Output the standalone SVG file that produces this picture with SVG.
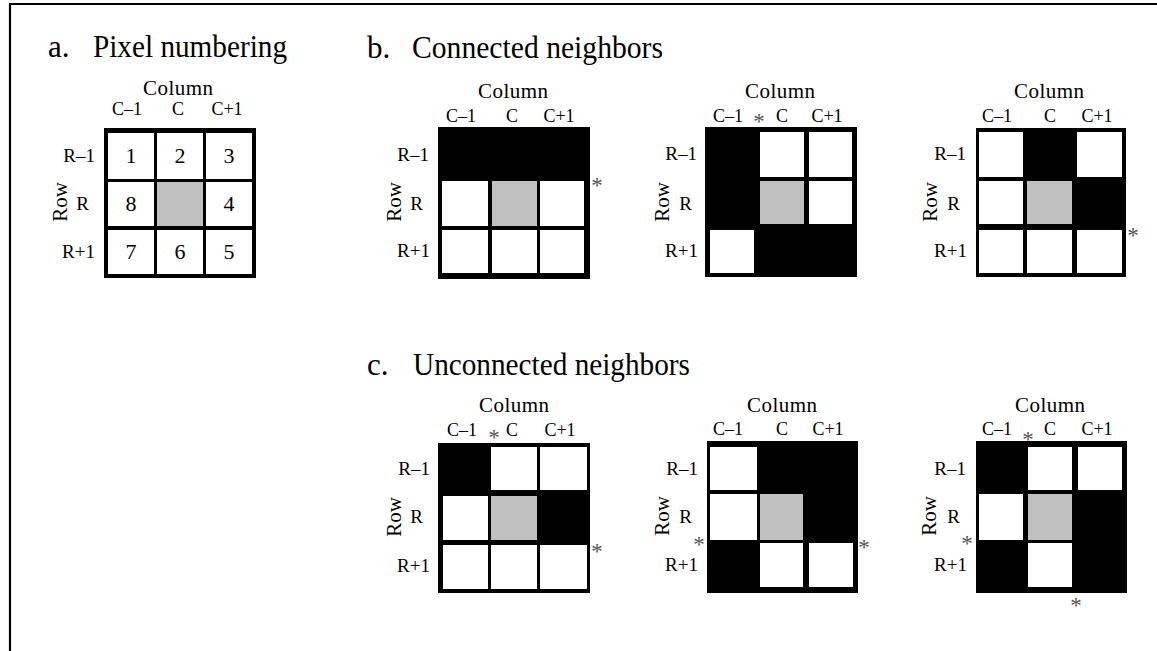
<svg xmlns="http://www.w3.org/2000/svg" width="1157" height="651" viewBox="0 0 1157 651">
<style>
text{font-family:"Liberation Serif","Times New Roman",serif;fill:#000}
.title{font-size:31px}
.colhead{font-size:21px;text-anchor:middle}
.clbl{font-size:18px;text-anchor:middle}
.rlbl{font-size:19px;text-anchor:end}
.rowhead{font-size:21px;text-anchor:middle}
.num{font-size:22px;text-anchor:middle}
.ast{font-size:23px;text-anchor:middle;fill:#555}
.grid{fill:#000}
.w{fill:#fff}
.g{fill:#c0c0c0}
</style>
<rect width="1157" height="651" fill="#fff"/>
<path d="M10,651 V4 H1157" fill="none" stroke="#000" stroke-width="2.2"/>

<g id="titles">
<text class="title" x="48" y="57">a.</text>
<text class="title" x="93" y="57" textLength="194" lengthAdjust="spacingAndGlyphs">Pixel numbering</text>
<text class="title" x="367" y="58">b.</text>
<text class="title" x="412" y="58" textLength="251" lengthAdjust="spacingAndGlyphs">Connected neighbors</text>
<text class="title" x="367" y="375">c.</text>
<text class="title" x="413" y="375" textLength="277" lengthAdjust="spacingAndGlyphs">Unconnected neighbors</text>
</g>

<g id="panel-a">
<rect class="grid" x="104" y="128" width="152" height="150"/>
<rect class="w" x="108" y="133" width="46" height="46"/>
<rect class="w" x="157" y="133" width="46" height="46"/>
<rect class="w" x="206" y="133" width="46" height="46"/>
<rect class="w" x="108" y="182" width="46" height="44"/>
<rect class="g" x="157" y="182" width="46" height="44"/>
<rect class="w" x="206" y="182" width="46" height="44"/>
<rect class="w" x="108" y="230" width="46" height="44"/>
<rect class="w" x="157" y="230" width="46" height="44"/>
<rect class="w" x="206" y="230" width="46" height="44"/>
<text class="num" x="131" y="163">1</text>
<text class="num" x="180" y="163">2</text>
<text class="num" x="229" y="163">3</text>
<text class="num" x="131" y="211">8</text>
<text class="num" x="229" y="211">4</text>
<text class="num" x="131" y="259">7</text>
<text class="num" x="180" y="259">6</text>
<text class="num" x="229" y="259">5</text>
<text class="colhead" x="178" y="95" textLength="70">Column</text>
<text class="clbl" x="127" y="115">C–1</text>
<text class="clbl" x="178" y="115">C</text>
<text class="clbl" x="227" y="115">C+1</text>
<text class="rlbl" x="95" y="162">R–1</text>
<text class="rlbl" x="89" y="210">R</text>
<text class="rlbl" x="95" y="258">R+1</text>
<text class="rowhead" transform="translate(67,202) rotate(-90)">Row</text>
</g>

<g id="panel-b1">
<rect class="grid" x="438" y="127" width="152" height="152"/>
<rect class="w" x="442" y="181" width="46" height="45"/>
<rect class="g" x="492" y="181" width="45" height="45"/>
<rect class="w" x="540" y="181" width="44" height="45"/>
<rect class="w" x="442" y="230" width="46" height="43"/>
<rect class="w" x="492" y="230" width="45" height="43"/>
<rect class="w" x="540" y="230" width="44" height="43"/>
<text class="colhead" x="513" y="98" textLength="70">Column</text>
<text class="clbl" x="461" y="122">C–1</text>
<text class="clbl" x="512" y="122">C</text>
<text class="clbl" x="559" y="122">C+1</text>
<text class="rlbl" x="429" y="161">R–1</text>
<text class="rlbl" x="423" y="210">R</text>
<text class="rlbl" x="430" y="257">R+1</text>
<text class="rowhead" transform="translate(401,202) rotate(-90)">Row</text>
<text class="ast" x="597" y="193">*</text>
</g>

<g id="panel-b2">
<rect class="grid" x="705" y="127" width="152" height="150"/>
<rect class="w" x="760" y="132" width="44" height="45"/>
<rect class="w" x="809" y="132" width="43" height="45"/>
<rect class="g" x="760" y="181" width="44" height="43"/>
<rect class="w" x="809" y="181" width="43" height="43"/>
<rect class="w" x="710" y="230" width="44" height="43"/>
<text class="colhead" x="780" y="98" textLength="70">Column</text>
<text class="clbl" x="728" y="122">C–1</text>
<text class="clbl" x="782" y="122">C</text>
<text class="clbl" x="827" y="122">C+1</text>
<text class="rlbl" x="697" y="160">R–1</text>
<text class="rlbl" x="692" y="210">R</text>
<text class="rlbl" x="698" y="257">R+1</text>
<text class="rowhead" transform="translate(669,202) rotate(-90)">Row</text>
<text class="ast" x="759" y="129">*</text>
</g>

<g id="panel-b3">
<rect class="grid" x="976" y="128" width="150" height="149"/>
<rect class="w" x="979" y="132" width="44" height="45"/>
<rect class="w" x="1077" y="132" width="45" height="45"/>
<rect class="w" x="979" y="181" width="44" height="43"/>
<rect class="g" x="1027" y="181" width="45" height="43"/>
<rect class="w" x="979" y="230" width="44" height="43"/>
<rect class="w" x="1027" y="230" width="45" height="43"/>
<rect class="w" x="1077" y="230" width="45" height="43"/>
<text class="colhead" x="1049" y="98" textLength="70">Column</text>
<text class="clbl" x="997" y="122">C–1</text>
<text class="clbl" x="1050" y="122">C</text>
<text class="clbl" x="1097" y="122">C+1</text>
<text class="rlbl" x="966" y="160">R–1</text>
<text class="rlbl" x="960" y="210">R</text>
<text class="rlbl" x="967" y="257">R+1</text>
<text class="rowhead" transform="translate(937,202) rotate(-90)">Row</text>
<text class="ast" x="1133" y="243">*</text>
</g>

<g id="panel-c1">
<rect class="grid" x="438" y="443" width="152" height="150"/>
<rect class="w" x="491" y="447" width="46" height="43"/>
<rect class="w" x="540" y="447" width="47" height="43"/>
<rect class="w" x="443" y="496" width="45" height="44"/>
<rect class="g" x="491" y="496" width="46" height="44"/>
<rect class="w" x="443" y="545" width="45" height="44"/>
<rect class="w" x="491" y="545" width="46" height="44"/>
<rect class="w" x="540" y="545" width="47" height="44"/>
<text class="colhead" x="514" y="412" textLength="70">Column</text>
<text class="clbl" x="462" y="436">C–1</text>
<text class="clbl" x="512" y="436">C</text>
<text class="clbl" x="560" y="436">C+1</text>
<text class="rlbl" x="430" y="475">R–1</text>
<text class="rlbl" x="423" y="523">R</text>
<text class="rlbl" x="430" y="572">R+1</text>
<text class="rowhead" transform="translate(401,517) rotate(-90)">Row</text>
<text class="ast" x="494" y="445">*</text>
<text class="ast" x="597" y="559">*</text>
</g>

<g id="panel-c2">
<rect class="grid" x="707" y="441" width="151" height="152"/>
<rect class="w" x="710" y="447" width="47" height="43"/>
<rect class="w" x="710" y="494" width="47" height="46"/>
<rect class="g" x="760" y="494" width="43" height="46"/>
<rect class="w" x="760" y="543" width="43" height="44"/>
<rect class="w" x="809" y="543" width="44" height="44"/>
<text class="colhead" x="782" y="412" textLength="70">Column</text>
<text class="clbl" x="728" y="435">C–1</text>
<text class="clbl" x="782" y="435">C</text>
<text class="clbl" x="828" y="435">C+1</text>
<text class="rlbl" x="698" y="475">R–1</text>
<text class="rlbl" x="692" y="523">R</text>
<text class="rlbl" x="698" y="571">R+1</text>
<text class="rowhead" transform="translate(669,516) rotate(-90)">Row</text>
<text class="ast" x="699" y="552">*</text>
<text class="ast" x="864" y="555">*</text>
</g>

<g id="panel-c3">
<rect class="grid" x="976" y="441" width="151" height="152"/>
<rect class="w" x="1028" y="447" width="44" height="43"/>
<rect class="w" x="1078" y="447" width="44" height="43"/>
<rect class="w" x="979" y="494" width="44" height="46"/>
<rect class="g" x="1028" y="494" width="44" height="46"/>
<rect class="w" x="1028" y="543" width="44" height="44"/>
<text class="colhead" x="1050" y="412" textLength="70">Column</text>
<text class="clbl" x="997" y="435">C–1</text>
<text class="clbl" x="1050" y="435">C</text>
<text class="clbl" x="1097" y="435">C+1</text>
<text class="rlbl" x="966" y="475">R–1</text>
<text class="rlbl" x="960" y="523">R</text>
<text class="rlbl" x="967" y="571">R+1</text>
<text class="rowhead" transform="translate(936,516) rotate(-90)">Row</text>
<text class="ast" x="1028" y="447">*</text>
<text class="ast" x="967" y="551">*</text>
<text class="ast" x="1076" y="613">*</text>
</g>
</svg>
